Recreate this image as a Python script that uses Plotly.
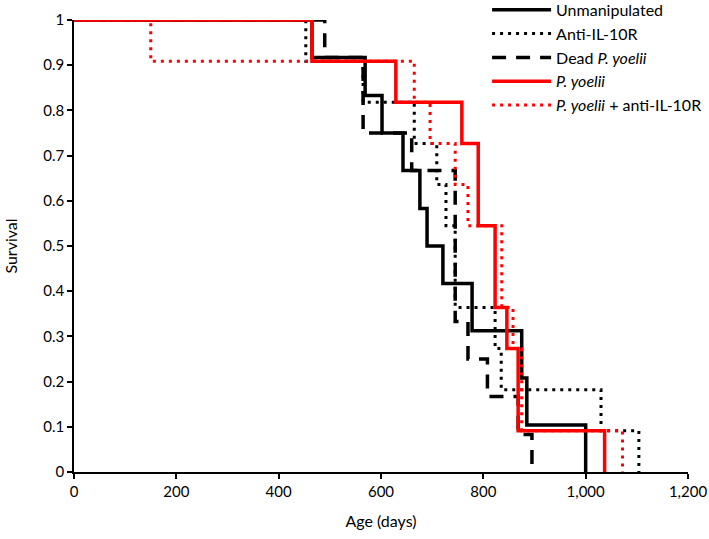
import plotly.graph_objects as go

# Event ages (days) and survival after each event
unmanip_t = [465, 569, 602, 643, 676, 690, 721, 778, 875, 885, 1000]
unmanip_s = [0.917, 0.833, 0.75, 0.667, 0.583, 0.5, 0.417, 0.3125, 0.208, 0.104, 0]

anti_t = [453, 565, 665, 709, 727, 745, 823, 835, 1030, 1104]
anti_s = [0.909, 0.818, 0.727, 0.636, 0.545, 0.364, 0.273, 0.182, 0.091, 0]

dead_t = [490, 565, 660, 745, 770, 808, 868, 895]
dead_s = [0.917, 0.75, 0.667, 0.333, 0.25, 0.167, 0.083, 0]

py_t = [465, 629, 758, 790, 823, 846, 868, 1037]
py_s = [0.909, 0.818, 0.727, 0.545, 0.364, 0.273, 0.091, 0]

pya_t = [150, 665, 696, 745, 770, 836, 858, 875, 1072]
pya_s = [0.909, 0.818, 0.727, 0.636, 0.545, 0.364, 0.273, 0.091, 0]

x_ticks = [0, 200, 400, 600, 800, 1000, 1200]
y_ticks = [0, 0.1, 0.2, 0.3, 0.4, 0.5, 0.6, 0.7, 0.8, 0.9, 1]

FONT = "Lato"

series = [
    ("Unmanipulated", unmanip_t, unmanip_s, "black", "solid", 3.5, 1),
    ("Anti-IL-10R", anti_t, anti_s, "black", "3px,5px", 3, 2),
    ("Dead <i>P. yoelii</i>", dead_t, dead_s, "black", "14px,10px", 3.5, 3),
    ("<i>P. yoelii</i> + anti-IL-10R", pya_t, pya_s, "#ff0000", "3px,5px", 3, 5),
    ("<i>P. yoelii</i>", py_t, py_s, "#ff0000", "solid", 3.5, 4),
]

fig = go.Figure()
for name, t, s, col, dash, w, rank in series:
    fig.add_trace(go.Scatter(
        x=[0] + t, y=[1] + s, mode="lines", name=name,
        line=dict(color=col, dash=dash, width=w, shape="hv"),
        legendrank=rank,
    ))

fig.update_layout(
    width=709, height=539,
    margin=dict(l=74, r=21, t=20, b=67, autoexpand=False),
    paper_bgcolor="white", plot_bgcolor="white",
    font=dict(family=FONT, size=15, color="black"),
    showlegend=True,
    legend=dict(x=0.687, y=1.06, xref="container", yref="paper",
                xanchor="left", yanchor="top",
                bgcolor="rgba(0,0,0,0)", borderwidth=0,
                font=dict(family=FONT, size=16, color="black"),
                itemwidth=59, tracegroupgap=0),
    xaxis=dict(range=[0, 1200], tickvals=x_ticks, tickformat=",d",
               showgrid=False, zeroline=False, showline=True,
               linecolor="black", linewidth=1.5, ticks="outside",
               ticklen=5, tickcolor="black", tickwidth=1.5,
               title=dict(text="Age (days)", font=dict(size=16), standoff=17)),
    yaxis=dict(range=[0, 1], tickvals=y_ticks,
               showgrid=False, zeroline=False, showline=True,
               linecolor="black", linewidth=1.5, ticks="outside",
               ticklen=5, tickcolor="black", tickwidth=1.5,
               title=dict(text="Survival", font=dict(size=16), standoff=22)),
)

fig.write_html("out.html",
               config={"displayModeBar": False},
               post_script="document.body.style.margin='0';document.body.style.overflow='hidden';")
